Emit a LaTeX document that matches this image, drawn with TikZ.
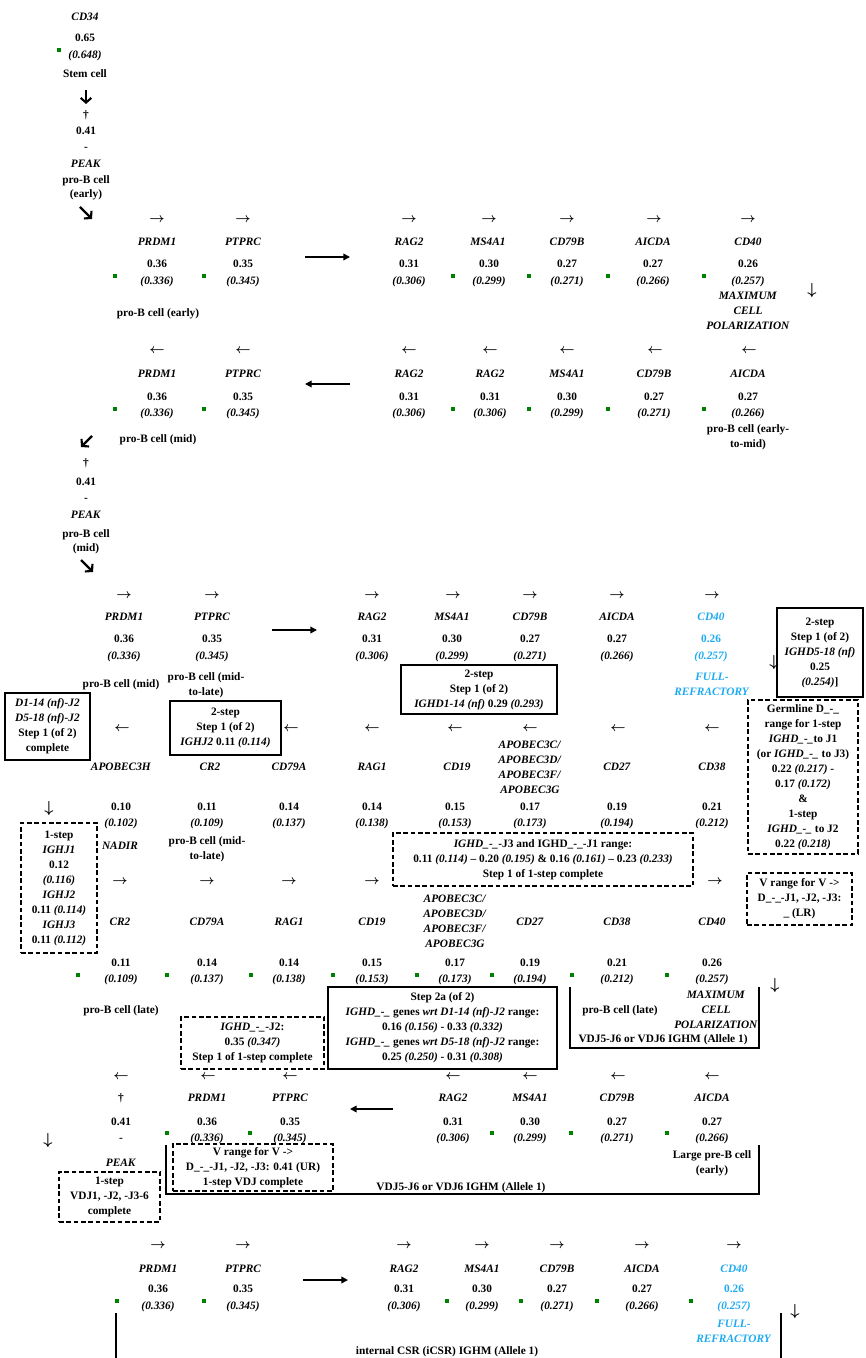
\documentclass[tikz,border=0pt]{standalone}
\usepackage{fontspec}
\setmainfont{Liberation Serif}
\usetikzlibrary{arrows.meta}
\definecolor{refblue}{RGB}{30,170,240}
\definecolor{dotgreen}{RGB}{0,128,0}
\begin{document}
\begin{tikzpicture}[x=0.75pt,y=-0.75pt,
  every node/.style={inner sep=0pt,anchor=mid,font=\fontsize{8.5}{11.25}\selectfont\bfseries},
  arr/.style={font=\fontsize{10}{10}\selectfont\boldmath},
  darr/.style={font=\fontsize{13}{13}\selectfont\boldmath},
  stack/.style={align=center,anchor=center},
  cdblue/.style={text=refblue},
  gdot/.style={fill=dotgreen,minimum width=3.2pt,minimum height=2.4pt},
  solidbox/.style={draw,line width=1.5pt,anchor=center,align=center},
  dashbox/.style={solidbox,dash pattern=on 3.6pt off 1.9pt},
  fatarrow/.style={line width=1.6pt,-{Straight Barb[length=3.5pt,width=8pt]}},
  bigarrow/.style={line width=1.1pt,-{Triangle[length=5pt,width=5pt]}},
  bracket/.style={line width=1.6pt}]
\useasboundingbox (0,0) rectangle (865,1358);

% stem cell column
\node (cd34) at (85,17) {\textit{CD34}};
\node (cd34v) at (85,38) {0.65};
\node (cd34p) at (85,55) {\textit{(0.648)}};
\node[gdot] (cd34d) at (59,47) {};
\node (stem) at (85,74) {Stem cell};
\coordinate (s1) at (86,90);
\coordinate (s2) at (86,104);
\draw[fatarrow] (s1) -- (s2);
\node (dag1) at (86,115) {\textdagger};
\node (pk1v) at (86,131) {0.41};
\node (pk1m) at (86,147) {-};
\node (pk1) at (86,164) {\textit{PEAK}};
\node (pk1c) at (86,180) {pro-B cell};
\node (pk1e) at (86,194) {(early)};
\coordinate (s3) at (80,207);
\coordinate (s4) at (92,219);
\draw[fatarrow] (s3) -- (s4);

% row 1
\node[arr] (r1a1) at (157,219) {$\rightarrow$};
\node[arr] (r1a2) at (243,219) {$\rightarrow$};
\node[arr] (r1a3) at (409,219) {$\rightarrow$};
\node[arr] (r1a4) at (489,219) {$\rightarrow$};
\node[arr] (r1a5) at (567,219) {$\rightarrow$};
\node[arr] (r1a6) at (654,219) {$\rightarrow$};
\node[arr] (r1a7) at (748,219) {$\rightarrow$};
\node (r1g1) at (157,242) {\textit{PRDM1}};
\node (r1g2) at (243,242) {\textit{PTPRC}};
\node (r1g3) at (409,242) {\textit{RAG2}};
\node (r1g4) at (488,242) {\textit{MS4A1}};
\node (r1g5) at (567,242) {\textit{CD79B}};
\node (r1g6) at (653,242) {\textit{AICDA}};
\node (r1g7) at (748,242) {\textit{CD40}};
\node (r1v1) at (157,264) {0.36};
\node (r1v2) at (243,264) {0.35};
\node (r1v3) at (409,264) {0.31};
\node (r1v4) at (489,264) {0.30};
\node (r1v5) at (567,264) {0.27};
\node (r1v6) at (653,264) {0.27};
\node (r1v7) at (748,264) {0.26};
\node (r1p1) at (157,281) {\textit{(0.336)}};
\node (r1p2) at (243,281) {\textit{(0.345)}};
\node (r1p3) at (409,281) {\textit{(0.306)}};
\node (r1p4) at (489,281) {\textit{(0.299)}};
\node (r1p5) at (567,281) {\textit{(0.271)}};
\node (r1p6) at (653,281) {\textit{(0.266)}};
\node (r1p7) at (748,281) {\textit{(0.257)}};
\node[gdot] (r1d1) at (115,273) {};
\node[gdot] (r1d2) at (204,273) {};
\node[gdot] (r1d3) at (453,273) {};
\node[gdot] (r1d4) at (529,273) {};
\node[gdot] (r1d5) at (608,273) {};
\node[gdot] (r1d6) at (704,273) {};
\coordinate (b1s) at (305,257);
\coordinate (b1e) at (350,257);
\draw[bigarrow] (b1s) -- (b1e);
\node (r1c) at (158,313) {pro-B cell (early)};
\node[stack] (r1max) at (748,311) {\textit{MAXIMUM}\\\textit{CELL}\\\textit{POLARIZATION}};
\node[darr] (r1dn) at (812,291) {$\downarrow$};

% row 2
\node[arr] (r2a1) at (157,350) {$\leftarrow$};
\node[arr] (r2a2) at (243,350) {$\leftarrow$};
\node[arr] (r2a3) at (409,350) {$\leftarrow$};
\node[arr] (r2a4) at (490,350) {$\leftarrow$};
\node[arr] (r2a5) at (567,350) {$\leftarrow$};
\node[arr] (r2a6) at (655,350) {$\leftarrow$};
\node[arr] (r2a7) at (749,350) {$\leftarrow$};
\node (r2g1) at (157,374) {\textit{PRDM1}};
\node (r2g2) at (243,374) {\textit{PTPRC}};
\node (r2g3) at (409,374) {\textit{RAG2}};
\node (r2g4) at (490,374) {\textit{RAG2}};
\node (r2g5) at (567,374) {\textit{MS4A1}};
\node (r2g6) at (654,374) {\textit{CD79B}};
\node (r2g7) at (748,374) {\textit{AICDA}};
\node (r2v1) at (157,397) {0.36};
\node (r2v2) at (243,397) {0.35};
\node (r2v3) at (409,397) {0.31};
\node (r2v4) at (490,397) {0.31};
\node (r2v5) at (567,397) {0.30};
\node (r2v6) at (654,397) {0.27};
\node (r2v7) at (748,397) {0.27};
\node (r2p1) at (157,413) {\textit{(0.336)}};
\node (r2p2) at (243,413) {\textit{(0.345)}};
\node (r2p3) at (409,413) {\textit{(0.306)}};
\node (r2p4) at (490,413) {\textit{(0.306)}};
\node (r2p5) at (567,413) {\textit{(0.299)}};
\node (r2p6) at (654,413) {\textit{(0.271)}};
\node (r2p7) at (748,413) {\textit{(0.266)}};
\node[gdot] (r2d1) at (115,406) {};
\node[gdot] (r2d2) at (204,406) {};
\node[gdot] (r2d3) at (453,406) {};
\node[gdot] (r2d4) at (529,406) {};
\node[gdot] (r2d5) at (608,406) {};
\node[gdot] (r2d6) at (704,406) {};
\coordinate (b2s) at (350,384);
\coordinate (b2e) at (305,384);
\draw[bigarrow] (b2s) -- (b2e);
\node[stack] (r2c) at (748,437) {pro-B cell (early-\\to-mid)};
\coordinate (s5) at (92,436);
\coordinate (s6) at (81,447);
\draw[fatarrow] (s5) -- (s6);
\node (r2mid) at (158,439) {pro-B cell (mid)};

% mid column
\node (dag2) at (86,463) {\textdagger};
\node (pk2v) at (86,482) {0.41};
\node (pk2m) at (86,498) {-};
\node (pk2) at (86,515) {\textit{PEAK}};
\node (pk2c) at (86,534) {pro-B cell};
\node (pk2e) at (86,548) {(mid)};
\coordinate (s7) at (81,560);
\coordinate (s8) at (93,572);
\draw[fatarrow] (s7) -- (s8);

% row 3
\node[arr] (r3a1) at (124,595) {$\rightarrow$};
\node[arr] (r3a2) at (212,595) {$\rightarrow$};
\node[arr] (r3a3) at (372,595) {$\rightarrow$};
\node[arr] (r3a4) at (453,595) {$\rightarrow$};
\node[arr] (r3a5) at (530,595) {$\rightarrow$};
\node[arr] (r3a6) at (617,595) {$\rightarrow$};
\node[arr] (r3a7) at (712,595) {$\rightarrow$};
\node (r3g1) at (124,617) {\textit{PRDM1}};
\node (r3g2) at (212,617) {\textit{PTPRC}};
\node (r3g3) at (372,617) {\textit{RAG2}};
\node (r3g4) at (452,617) {\textit{MS4A1}};
\node (r3g5) at (530,617) {\textit{CD79B}};
\node (r3g6) at (617,617) {\textit{AICDA}};
\node[cdblue] (r3g7) at (711,617) {\textit{CD40}};
\node (r3v1) at (124,639) {0.36};
\node (r3v2) at (212,639) {0.35};
\node (r3v3) at (372,639) {0.31};
\node (r3v4) at (452,639) {0.30};
\node (r3v5) at (530,639) {0.27};
\node (r3v6) at (617,639) {0.27};
\node[cdblue] (r3v7) at (711,639) {0.26};
\node (r3p1) at (124,656) {\textit{(0.336)}};
\node (r3p2) at (212,656) {\textit{(0.345)}};
\node (r3p3) at (372,656) {\textit{(0.306)}};
\node (r3p4) at (452,656) {\textit{(0.299)}};
\node (r3p5) at (530,656) {\textit{(0.271)}};
\node (r3p6) at (617,656) {\textit{(0.266)}};
\node[cdblue] (r3p7) at (711,656) {\textit{(0.257)}};
\coordinate (b3s) at (272,630);
\coordinate (b3e) at (317,630);
\draw[bigarrow] (b3s) -- (b3e);
\node (r3mid) at (121,684) {pro-B cell (mid)};
\node[stack] (r3c) at (206,685) {pro-B cell (mid-\\to-late)};
\node[stack,cdblue] (r3full) at (712,684) {\textit{FULL-}\\\textit{REFRACTORY}};
\node[darr] (r3dn) at (774,663) {$\downarrow$};

% boxes between rows 3 and 4
\node[solidbox,minimum width=117pt,minimum height=36.75pt] (bxA) at (479,689.5)
  {2-step\\Step 1 (of 2)\\\textit{IGHD1-14 (nf)} 0.29 \textit{(0.293)}};
\node[solidbox,minimum width=64.5pt,minimum height=66.75pt] (bxB) at (820,652.5)
  {2-step\\Step 1 (of 2)\\\textit{IGHD5-18 (nf)}\\0.25\\\textit{(0.254)}]};
\node[solidbox,minimum width=63.75pt,minimum height=50.25pt] (bxC) at (47.5,726.5)
  {\textit{D1-14 (nf)-J2}\\\textit{D5-18 (nf)-J2}\\Step 1 (of 2)\\complete};
\node[solidbox,minimum width=83.25pt,minimum height=40.5pt] (bxD) at (225.5,728)
  {2-step\\Step 1 (of 2)\\\textit{IGHJ2} 0.11 \textit{(0.114)}};
\node[dashbox,minimum width=82.5pt,minimum height=115.5pt] (bxE) at (803,777)
  {Germline D\_-\_\\range for 1-step\\\textit{IGHD\_-\_}to J1\\(or \textit{IGHD\_-\_} to J3)\\0.22 \textit{(0.217)} -\\0.17 \textit{(0.172)}\\\&\\1-step\\\textit{IGHD\_-\_} to J2\\0.22 \textit{(0.218)}};

% row 4
\node[arr] (r4a1) at (122,728) {$\leftarrow$};
\node[arr] (r4a2) at (291,728) {$\leftarrow$};
\node[arr] (r4a3) at (372,728) {$\leftarrow$};
\node[arr] (r4a4) at (455,728) {$\leftarrow$};
\node[arr] (r4a5) at (530,728) {$\leftarrow$};
\node[arr] (r4a6) at (618,728) {$\leftarrow$};
\node[arr] (r4a7) at (712,728) {$\leftarrow$};
\node (r4g1) at (121,767) {\textit{APOBEC3H}};
\node (r4g2) at (210,767) {\textit{CR2}};
\node (r4g3) at (289,767) {\textit{CD79A}};
\node (r4g4) at (372,767) {\textit{RAG1}};
\node (r4g5) at (457,767) {\textit{CD19}};
\node[stack] (r4g6) at (530,767) {\textit{APOBEC3C/}\\\textit{APOBEC3D/}\\\textit{APOBEC3F/}\\\textit{APOBEC3G}};
\node (r4g7) at (617,767) {\textit{CD27}};
\node (r4g8) at (712,767) {\textit{CD38}};
\node (r4v1) at (121,807) {0.10};
\node (r4v2) at (207,807) {0.11};
\node (r4v3) at (289,807) {0.14};
\node (r4v4) at (372,807) {0.14};
\node (r4v5) at (455,807) {0.15};
\node (r4v6) at (530,807) {0.17};
\node (r4v7) at (617,807) {0.19};
\node (r4v8) at (712,807) {0.21};
\node (r4p1) at (121,823) {\textit{(0.102)}};
\node (r4p2) at (207,823) {\textit{(0.109)}};
\node (r4p3) at (289,823) {\textit{(0.137)}};
\node (r4p4) at (372,823) {\textit{(0.138)}};
\node (r4p5) at (455,823) {\textit{(0.153)}};
\node (r4p6) at (530,823) {\textit{(0.173)}};
\node (r4p7) at (617,823) {\textit{(0.194)}};
\node (r4p8) at (712,823) {\textit{(0.212)}};
\node (r4nad) at (120,846) {\textit{NADIR}};
\node[stack] (r4c) at (207,849) {pro-B cell (mid-\\to-late)};
\node[darr] (r4dn) at (49,809) {$\downarrow$};

% boxes between rows 4 and 5
\node[dashbox,minimum width=57pt,minimum height=97.5pt] (bxF) at (59,888)
  {1-step\\\textit{IGHJ1}\\0.12\\\textit{(0.116)}\\\textit{IGHJ2}\\0.11 \textit{(0.114)}\\\textit{IGHJ3}\\0.11 \textit{(0.112)}};
\node[dashbox,minimum width=225pt,minimum height=39.75pt] (bxG) at (543,859.5)
  {\textit{IGHD\_-\_}-J3 and IGHD\_-\_-J1 range:\\0.11 \textit{(0.114)} -- 0.20 \textit{(0.195)} \& 0.16 \textit{(0.161)} -- 0.23 \textit{(0.233)}\\Step 1 of 1-step complete};
\node[dashbox,minimum width=78.75pt,minimum height=39pt] (bxH) at (799.5,899)
  {V range for V ->\\D\_-\_-J1, -J2, -J3:\\\_ (LR)};

% row 5
\node[arr] (r5a1) at (120,881) {$\rightarrow$};
\node[arr] (r5a2) at (207,881) {$\rightarrow$};
\node[arr] (r5a3) at (289,881) {$\rightarrow$};
\node[arr] (r5a4) at (372,881) {$\rightarrow$};
\node[arr] (r5a5) at (715,881) {$\rightarrow$};
\node (r5g1) at (120,922) {\textit{CR2}};
\node (r5g2) at (207,922) {\textit{CD79A}};
\node (r5g3) at (289,922) {\textit{RAG1}};
\node (r5g4) at (372,922) {\textit{CD19}};
\node[stack] (r5g5) at (455,921) {\textit{APOBEC3C/}\\\textit{APOBEC3D/}\\\textit{APOBEC3F/}\\\textit{APOBEC3G}};
\node (r5g6) at (530,922) {\textit{CD27}};
\node (r5g7) at (617,922) {\textit{CD38}};
\node (r5g8) at (712,922) {\textit{CD40}};
\node (r5v1) at (121,963) {0.11};
\node (r5v2) at (207,963) {0.14};
\node (r5v3) at (289,963) {0.14};
\node (r5v4) at (372,963) {0.15};
\node (r5v5) at (455,963) {0.17};
\node (r5v6) at (530,963) {0.19};
\node (r5v7) at (617,963) {0.21};
\node (r5v8) at (712,963) {0.26};
\node (r5p1) at (121,979) {\textit{(0.109)}};
\node (r5p2) at (207,979) {\textit{(0.137)}};
\node (r5p3) at (289,979) {\textit{(0.138)}};
\node (r5p4) at (372,979) {\textit{(0.153)}};
\node (r5p5) at (455,979) {\textit{(0.173)}};
\node (r5p6) at (530,979) {\textit{(0.194)}};
\node (r5p7) at (617,979) {\textit{(0.212)}};
\node (r5p8) at (712,979) {\textit{(0.257)}};
\node[gdot] (r5d1) at (78,972) {};
\node[gdot] (r5d2) at (167,972) {};
\node[gdot] (r5d3) at (251,972) {};
\node[gdot] (r5d4) at (333,972) {};
\node[gdot] (r5d5) at (417,972) {};
\node[gdot] (r5d6) at (492,972) {};
\node[gdot] (r5d7) at (572,972) {};
\node[gdot] (r5d8) at (667,972) {};
\node (r5late) at (121,1010) {pro-B cell (late)};
\node[darr] (r5dn) at (775,986) {$\downarrow$};

% late pro-B bracket
\coordinate (k1a) at (570,987);
\coordinate (k1b) at (570,1048);
\coordinate (k1c) at (759,1048);
\coordinate (k1d) at (759,987);
\draw[bracket] (k1a) -- (k1b) -- (k1c) -- (k1d);
\node (k1late) at (620,1010) {pro-B cell (late)};
\node[stack] (k1max) at (716,1010) {\textit{MAXIMUM}\\\textit{CELL}\\\textit{POLARIZATION}};
\node (k1vdj) at (663,1039) {VDJ5-J6 or VDJ6 IGHM (Allele 1)};

% boxes between rows 5 and 6
\node[solidbox,minimum width=171.75pt,minimum height=61.5pt] (bxI) at (442.5,1028)
  {Step 2a (of 2)\\\textit{IGHD\_-\_} genes \textit{wrt D1-14 (nf)-J2} range:\\0.16 \textit{(0.156)} - 0.33 \textit{(0.332)}\\\textit{IGHD\_-\_} genes \textit{wrt D5-18 (nf)-J2} range:\\0.25 \textit{(0.250)} - 0.31 \textit{(0.308)}};
\node[dashbox,minimum width=107.25pt,minimum height=39pt] (bxJ) at (252.5,1043)
  {\textit{IGHD\_-\_}-J2:\\0.35 \textit{(0.347)}\\Step 1 of 1-step complete};

% row 6
\node[arr] (r6a1) at (121,1076) {$\leftarrow$};
\node[arr] (r6a2) at (208,1076) {$\leftarrow$};
\node[arr] (r6a3) at (290,1076) {$\leftarrow$};
\node[arr] (r6a4) at (453,1076) {$\leftarrow$};
\node[arr] (r6a5) at (530,1076) {$\leftarrow$};
\node[arr] (r6a6) at (618,1076) {$\leftarrow$};
\node[arr] (r6a7) at (712,1076) {$\leftarrow$};
\node (dag3) at (121,1098) {\textdagger};
\node (r6g2) at (207,1098) {\textit{PRDM1}};
\node (r6g3) at (290,1098) {\textit{PTPRC}};
\node (r6g4) at (453,1098) {\textit{RAG2}};
\node (r6g5) at (530,1098) {\textit{MS4A1}};
\node (r6g6) at (617,1098) {\textit{CD79B}};
\node (r6g7) at (712,1098) {\textit{AICDA}};
\node (pk3v) at (121,1122) {0.41};
\node (r6v2) at (207,1122) {0.36};
\node (r6v3) at (290,1122) {0.35};
\node (r6v4) at (453,1122) {0.31};
\node (r6v5) at (530,1122) {0.30};
\node (r6v6) at (617,1122) {0.27};
\node (r6v7) at (712,1122) {0.27};
\node (pk3m) at (121,1138) {-};
\node (r6p2) at (207,1138) {\textit{(0.336)}};
\node (r6p3) at (290,1138) {\textit{(0.345)}};
\node (r6p4) at (453,1138) {\textit{(0.306)}};
\node (r6p5) at (530,1138) {\textit{(0.299)}};
\node (r6p6) at (617,1138) {\textit{(0.271)}};
\node (r6p7) at (712,1138) {\textit{(0.266)}};
\node[gdot] (r6d1) at (167,1130) {};
\node[gdot] (r6d2) at (250,1130) {};
\node[gdot] (r6d3) at (492,1130) {};
\node[gdot] (r6d4) at (571,1130) {};
\node[gdot] (r6d5) at (667,1130) {};
\coordinate (b6s) at (393,1109);
\coordinate (b6e) at (350,1109);
\draw[bigarrow] (b6s) -- (b6e);
\node (pk3) at (121,1163) {\textit{PEAK}};
\node[darr] (r6dn) at (48,1141) {$\downarrow$};

% large pre-B bracket
\coordinate (k2a) at (166,1145);
\coordinate (k2b) at (166,1194);
\coordinate (k2c) at (759,1194);
\coordinate (k2d) at (759,1145);
\draw[bracket] (k2a) -- (k2b) -- (k2c) -- (k2d);
\node[stack] (k2large) at (712,1163) {Large pre-B cell\\(early)};
\node (k2vdj) at (461,1187) {VDJ5-J6 or VDJ6 IGHM (Allele 1)};
\node[dashbox,minimum width=120pt,minimum height=35.25pt] (bxK) at (253,1167.5)
  {V range for V ->\\D\_-\_-J1, -J2, -J3: 0.41 (UR)\\1-step VDJ complete};
\node[dashbox,minimum width=75.75pt,minimum height=37.5pt] (bxL) at (109.5,1197)
  {1-step\\VDJ1, -J2, -J3-6\\complete};

% row 7
\node[arr] (r7a1) at (158,1245) {$\rightarrow$};
\node[arr] (r7a2) at (243,1245) {$\rightarrow$};
\node[arr] (r7a3) at (404,1245) {$\rightarrow$};
\node[arr] (r7a4) at (482,1245) {$\rightarrow$};
\node[arr] (r7a5) at (557,1245) {$\rightarrow$};
\node[arr] (r7a6) at (642,1245) {$\rightarrow$};
\node[arr] (r7a7) at (734,1245) {$\rightarrow$};
\node (r7g1) at (158,1269) {\textit{PRDM1}};
\node (r7g2) at (243,1269) {\textit{PTPRC}};
\node (r7g3) at (404,1269) {\textit{RAG2}};
\node (r7g4) at (482,1269) {\textit{MS4A1}};
\node (r7g5) at (557,1269) {\textit{CD79B}};
\node (r7g6) at (642,1269) {\textit{AICDA}};
\node[cdblue] (r7g7) at (734,1269) {\textit{CD40}};
\node (r7v1) at (158,1289) {0.36};
\node (r7v2) at (243,1289) {0.35};
\node (r7v3) at (404,1289) {0.31};
\node (r7v4) at (482,1289) {0.30};
\node (r7v5) at (557,1289) {0.27};
\node (r7v6) at (642,1289) {0.27};
\node[cdblue] (r7v7) at (734,1289) {0.26};
\node (r7p1) at (158,1306) {\textit{(0.336)}};
\node (r7p2) at (243,1306) {\textit{(0.345)}};
\node (r7p3) at (404,1306) {\textit{(0.306)}};
\node (r7p4) at (482,1306) {\textit{(0.299)}};
\node (r7p5) at (557,1306) {\textit{(0.271)}};
\node (r7p6) at (642,1306) {\textit{(0.266)}};
\node[cdblue] (r7p7) at (734,1306) {\textit{(0.257)}};
\node[gdot] (r7d1) at (117,1298) {};
\node[gdot] (r7d2) at (204,1298) {};
\node[gdot] (r7d3) at (447,1298) {};
\node[gdot] (r7d4) at (521,1298) {};
\node[gdot] (r7d5) at (597,1298) {};
\node[gdot] (r7d6) at (691,1298) {};
\coordinate (b7s) at (303,1280);
\coordinate (b7e) at (348,1280);
\draw[bigarrow] (b7s) -- (b7e);
\node[stack,cdblue] (r7full) at (734,1331) {\textit{FULL-}\\\textit{REFRACTORY}};
\node[darr] (r7dn) at (795,1312) {$\downarrow$};

% iCSR bracket
\coordinate (k3a) at (116,1313);
\coordinate (k3b) at (116,1370);
\coordinate (k3c) at (781,1313);
\coordinate (k3d) at (781,1370);
\draw[bracket] (k3a) -- (k3b);
\draw[bracket] (k3c) -- (k3d);
\node (k3csr) at (447,1351) {internal CSR (iCSR) IGHM (Allele 1)};
\end{tikzpicture}
\end{document}
